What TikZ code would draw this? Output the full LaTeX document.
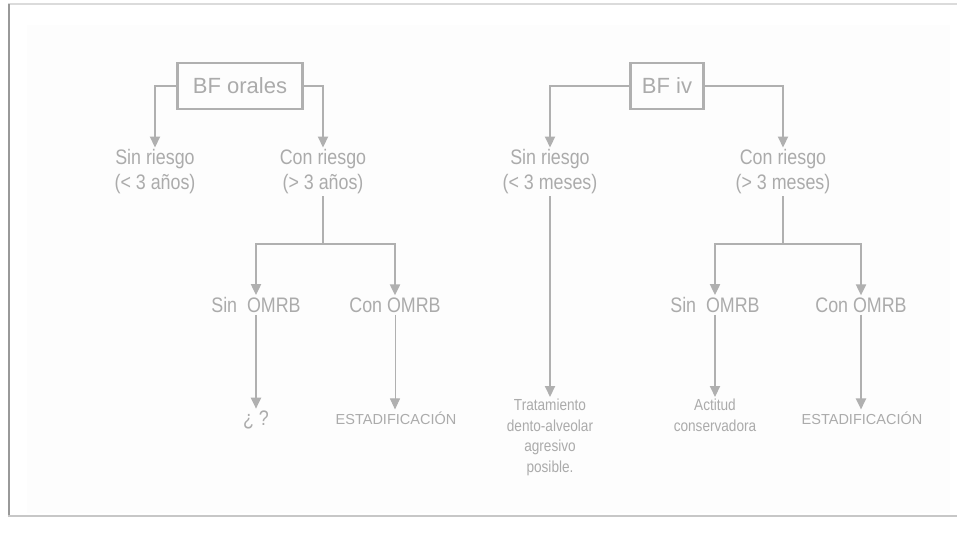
\documentclass[tikz,border=0pt]{standalone}
\usepackage{fontspec}
\setmainfont{Liberation Sans}
\newfontfamily\narrowfont[FakeStretch=0.85]{Liberation Sans}
\usetikzlibrary{positioning, arrows.meta}

\definecolor{inkgray}{HTML}{ABABAB}
\definecolor{linegray}{HTML}{B0B0B0}
\definecolor{panelgray}{HTML}{FDFDFD}

\begin{document}
\begin{tikzpicture}[
    x=1pt, y=-1pt,
    boxnode/.style={rectangle, draw=linegray, line width=2.4pt, minimum height=46pt, font=\fontsize{22}{26}\selectfont, text=inkgray},
    choice/.style={align=center, inner sep=2pt, font=\narrowfont\fontsize{21}{25}\selectfont, text=inkgray},
    result/.style={align=center, inner sep=2pt, font=\narrowfont\fontsize{16}{20.5}\selectfont, text=inkgray},
    stage/.style={inner sep=2pt, font=\fontsize{14.5}{17}\selectfont, text=inkgray},
    link/.style={draw=linegray, line width=2pt},
    arr/.style={link, -{Triangle[width=10pt,length=11pt]}}
]
\useasboundingbox (0,0) rectangle (957,533);

% Frame
\fill[panelgray] (27,25) rectangle (950,513);
\draw[draw=black!14, line width=2pt] (8,4) -- (957,4);
\draw[draw=black!40, line width=2pt] (9,4) -- (9,516);
\draw[draw=black!22, line width=2pt] (8,516) -- (957,516);

% Nodes: oral
\node[boxnode, minimum width=125pt] (oral) at (240,86) {BF orales};
\node[choice] (sinA) at (155,172) {Sin riesgo\\(< 3 años)};
\node[choice] (conA) at (323,172) {Con riesgo\\(> 3 años)};
\coordinate (jA) at (323,244);
\node[choice] (sinOA) at (256,305) {Sin~ OMRB};
\node[choice] (conOA) at (395,305) {Con OMRB};
\node[choice] (qA) at (256,420) {¿ ?};
\node[stage] (estA) at (396,418) {ESTADIFICACIÓN};

% Nodes: iv
\node[boxnode, minimum width=73pt] (iv) at (667,86) {BF iv};
\node[choice] (sinB) at (550,172) {Sin riesgo\\(< 3 meses)};
\node[choice] (conB) at (783,172) {Con riesgo\\(> 3 meses)};
\coordinate (jB) at (783,244);
\node[choice] (sinOB) at (715,305) {Sin~ OMRB};
\node[choice] (conOB) at (861,305) {Con OMRB};
\node[result, anchor=north] (tratB) at (550,397) {Tratamiento\\dento-alveolar\\agresivo\\posible.};
\node[result, anchor=north] (actB) at (715,397) {Actitud\\conservadora};
\node[stage] (estB) at (862,418) {ESTADIFICACIÓN};

% Edges: oral
\draw[arr] (oral.west) -| (sinA.north);
\draw[arr] (oral.east) -| (conA.north);
\draw[link] (conA.south) -- (jA);
\draw[arr] (jA) -| (sinOA.north);
\draw[arr] (jA) -| (conOA.north);
\draw[arr] (sinOA) -- (qA);
\draw[arr, line width=1pt] (conOA.south) -- (conOA.south |- estA.north);

% Edges: iv
\draw[arr] (iv.west) -| (sinB.north);
\draw[arr] (iv.east) -| (conB.north);
\draw[arr] (sinB) -- (tratB);
\draw[link] (conB.south) -- (jB);
\draw[arr] (jB) -| (sinOB.north);
\draw[arr] (jB) -| (conOB.north);
\draw[arr] (sinOB) -- (actB);
\draw[arr] (conOB.south) -- (conOB.south |- estB.north);

\end{tikzpicture}
\end{document}
